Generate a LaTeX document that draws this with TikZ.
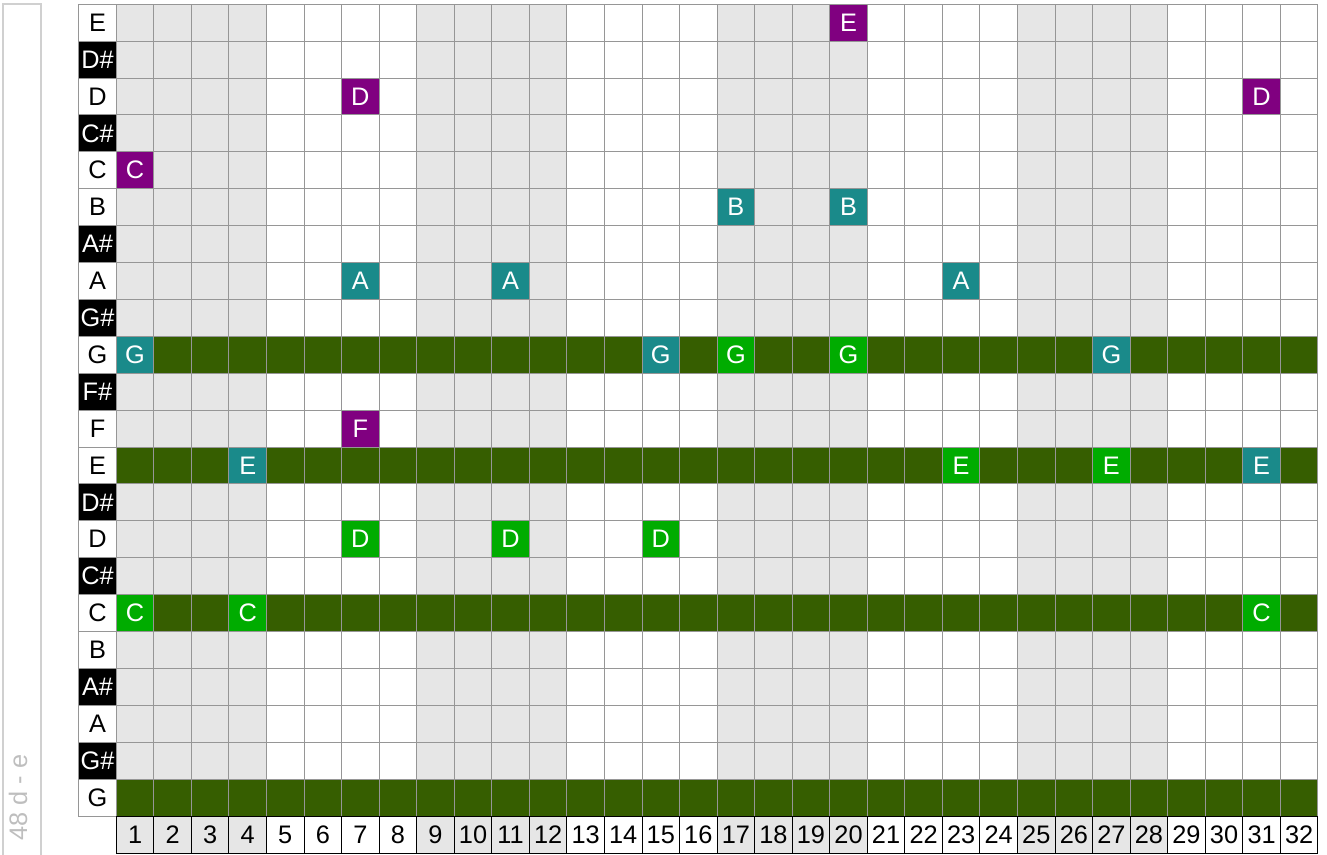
\documentclass[tikz,border=0pt]{standalone}
\usepackage{fontspec}
\setmainfont{Liberation Sans}
\definecolor{gridc}{RGB}{150,150,150}
\definecolor{lgrey}{RGB}{230,230,230}
\definecolor{dkgreen}{RGB}{54,94,0}
\definecolor{pur}{RGB}{128,0,128}
\definecolor{tea}{RGB}{26,138,138}
\definecolor{grn}{RGB}{0,172,0}
\definecolor{stripc}{RGB}{208,208,208}
\definecolor{stript}{RGB}{190,190,190}
\begin{document}
\begin{tikzpicture}[x=0.75pt,y=-0.75pt,
  cell/.style={draw=gridc, line width=0.75pt, minimum width=28.1625pt, minimum height=27.675pt,
    inner sep=0pt, outer sep=0pt, anchor=north west, font=\fontsize{19}{19}\selectfont},
  numcell/.style={cell, draw=black, minimum height=27.75pt},
  note/.style={cell, text=white}]
\useasboundingbox (0,0) rectangle (1327,854);
% side strip
\draw[stripc, line width=1.5pt] (3,860) -- (3,4) -- (41,4) -- (41,860);
\node[rotate=90, anchor=base west, text=stript, font=\fontsize{19}{19}\selectfont, inner sep=0pt] (side) at (27,841) {48 d - e};
% grid cells
\foreach \cc in {1,...,32}{
  \foreach \rr in {0,...,21}{
    \pgfmathsetmacro\xx{116.3+(\cc-1)*37.55}
    \pgfmathsetmacro\yy{4.2+\rr*36.9}
    \pgfmathtruncatemacro\g{mod(floor((\cc-1)/4),2)}
    \pgfmathtruncatemacro\isg{(\rr==9)||(\rr==12)||(\rr==16)||(\rr==21)}
    \ifnum\isg=1 \def\fc{dkgreen}\else\ifnum\g=0 \def\fc{lgrey}\else\def\fc{white}\fi\fi
    \node[cell, fill=\fc] (c\rr-\cc) at (\xx,\yy) {};
  }
}
% row labels
\foreach \rr/\lab/\kind in {0/E/n,1/D\#/s,2/D/n,3/C\#/s,4/C/n,5/B/n,6/A\#/s,7/A/n,8/G\#/s,9/G/n,10/F\#/s,11/F/n,12/E/n,13/D\#/s,14/D/n,15/C\#/s,16/C/n,17/B/n,18/A\#/s,19/A/n,20/G\#/s,21/G/n}{
  \pgfmathsetmacro\yy{4.2+\rr*36.9}
  \if\kind s
    \node[cell, fill=black, text=white] (lab\rr) at (78.75,\yy) {\lab};
  \else
    \node[cell, fill=white, text=black] (lab\rr) at (78.75,\yy) {\lab};
  \fi
}
% notes
\foreach \rr/\cc/\nm/\col in {0/20/E/pur, 2/7/D/pur, 2/31/D/pur, 4/1/C/pur, 5/17/B/tea, 5/20/B/tea,
  7/7/A/tea, 7/11/A/tea, 7/23/A/tea, 9/1/G/tea, 9/15/G/tea, 9/17/G/grn, 9/20/G/grn, 9/27/G/tea,
  11/7/F/pur, 12/4/E/tea, 12/23/E/grn, 12/27/E/grn, 12/31/E/tea, 14/7/D/grn, 14/11/D/grn, 14/15/D/grn,
  16/1/C/grn, 16/4/C/grn, 16/31/C/grn}{
  \node[note, fill=\col] (n\rr-\cc) at (c\rr-\cc.north west) {\nm};
}
% number row
\foreach \cc in {1,...,32}{
  \pgfmathsetmacro\xx{116.3+(\cc-1)*37.55}
  \pgfmathtruncatemacro\g{mod(floor((\cc-1)/4),2)}
  \ifnum\g=0 \def\fc{lgrey}\else\def\fc{white}\fi
  \node[numcell, fill=\fc] (num\cc) at (\xx,816) {\cc};
}
\end{tikzpicture}
\end{document}
